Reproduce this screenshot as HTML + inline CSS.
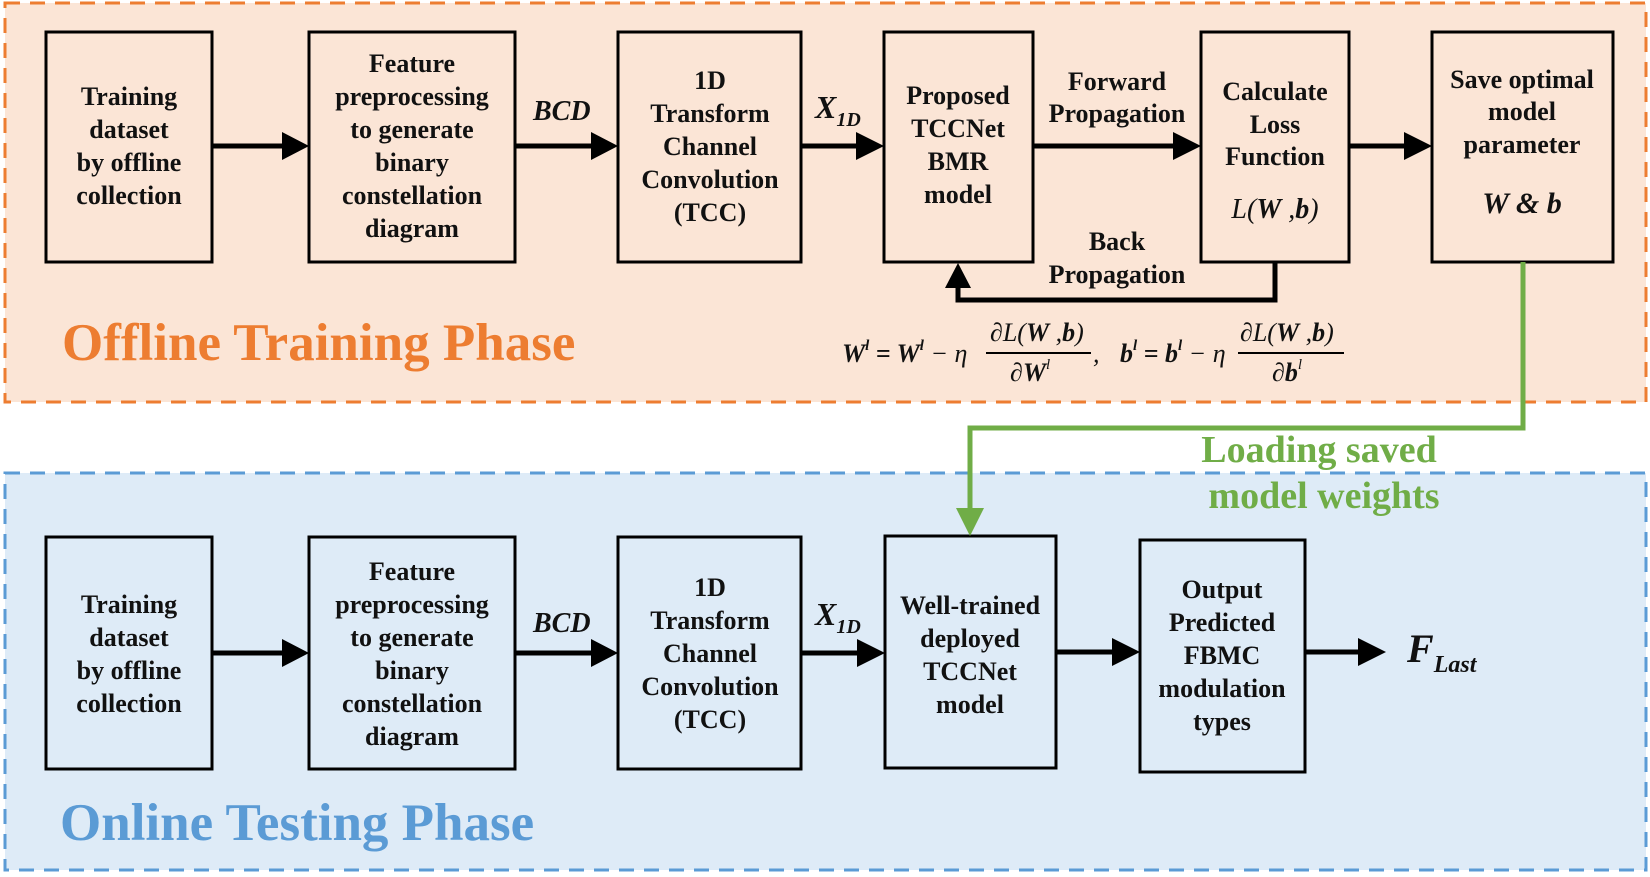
<!DOCTYPE html>
<html><head><meta charset="utf-8"><style>
html,body{margin:0;padding:0;background:#fff}
svg{display:block}
svg text{font-family:"Liberation Serif","Times New Roman","DejaVu Serif",serif;font-weight:bold;fill:#111}
.b{font-size:26px;text-anchor:middle}
.i{font-style:italic}
</style></head><body>
<svg width="1650" height="877" viewBox="0 0 1650 877" xmlns="http://www.w3.org/2000/svg" font-family="Liberation Serif, serif">
<!-- panels -->
<rect x="5" y="3" width="1641" height="399" fill="#fbe5d6" stroke="#ed7d31" stroke-width="3" stroke-dasharray="15,10"/>
<rect x="5" y="473" width="1641" height="397" fill="#deebf7" stroke="#5b9bd5" stroke-width="3" stroke-dasharray="15,10"/>

<g fill="none" stroke="#000" stroke-width="3">
<rect x="46" y="32" width="166" height="230"/>
<rect x="309" y="32" width="206" height="230"/>
<rect x="618" y="32" width="183" height="230"/>
<rect x="884" y="32" width="149" height="230"/>
<rect x="1201" y="32" width="148" height="230"/>
<rect x="1432" y="32" width="181" height="230"/>

<rect x="46" y="537" width="166" height="232"/>
<rect x="309" y="537" width="206" height="232"/>
<rect x="618" y="537" width="183" height="232"/>
<rect x="885" y="536" width="171" height="232"/>
<rect x="1140" y="540" width="165" height="232"/>
</g>

<!-- arrows -->
<g stroke="#000" stroke-width="5" fill="none">
<line x1="212" y1="146" x2="284" y2="146"/>
<line x1="515" y1="146" x2="593" y2="146"/>
<line x1="801" y1="146" x2="858" y2="146"/>
<line x1="1033" y1="146" x2="1175" y2="146"/>
<line x1="1349" y1="146" x2="1406" y2="146"/>
<polyline points="1275,262 1275,300 958,300 958,285"/>
<line x1="212" y1="653" x2="284" y2="653"/>
<line x1="515" y1="653" x2="593" y2="653"/>
<line x1="801" y1="653" x2="859" y2="653"/>
<line x1="1056" y1="652" x2="1114" y2="652"/>
<line x1="1305" y1="652" x2="1360" y2="652"/>
</g>
<g fill="#000">
<path d="M282,132 L309,146 L282,160 z"/>
<path d="M591,132 L618,146 L591,160 z"/>
<path d="M856,132 L884,146 L856,160 z"/>
<path d="M1173,132 L1201,146 L1173,160 z"/>
<path d="M1404,132 L1432,146 L1404,160 z"/>
<path d="M945,288 L958,263 L971,288 z"/>
<path d="M282,639 L309,653 L282,667 z"/>
<path d="M591,639 L618,653 L591,667 z"/>
<path d="M857,639 L885,653 L857,667 z"/>
<path d="M1112,638 L1140,652 L1112,666 z"/>
<path d="M1358,638 L1386,652 L1358,666 z"/>
</g>
<!-- green -->
<polyline points="1523,262 1523,428 970,428 970,512" fill="none" stroke="#70ad47" stroke-width="5"/>
<path d="M956,508 L984,508 L970,536 z" fill="#70ad47"/>

<!-- top texts -->
<text x="129" y="105" class="b">Training</text><text x="129" y="138" class="b">dataset</text><text x="129" y="171" class="b">by offline</text><text x="129" y="204" class="b">collection</text>
<text x="412" y="72" class="b">Feature</text><text x="412" y="105" class="b">preprocessing</text><text x="412" y="138" class="b">to generate</text><text x="412" y="171" class="b">binary</text><text x="412" y="204" class="b">constellation</text><text x="412" y="237" class="b">diagram</text>
<text x="710" y="89" class="b">1D</text><text x="710" y="122" class="b">Transform</text><text x="710" y="155" class="b">Channel</text><text x="710" y="188" class="b">Convolution</text><text x="710" y="221" class="b">(TCC)</text>
<text x="958" y="104" class="b">Proposed</text><text x="958" y="137" class="b">TCCNet</text><text x="958" y="170" class="b">BMR</text><text x="958" y="203" class="b">model</text>
<text x="1275" y="100" class="b">Calculate</text><text x="1275" y="133" class="b">Loss</text><text x="1275" y="165" class="b">Function</text>
<text x="1275" y="218" class="b" style="font-weight:normal;font-style:italic;font-size:28px">L(<tspan font-weight="bold">W</tspan> ,<tspan font-weight="bold">b</tspan>)</text>
<text x="1522" y="88" class="b">Save optimal</text><text x="1522" y="120" class="b">model</text><text x="1522" y="153" class="b">parameter</text>
<text x="1522" y="213" class="b i" style="font-size:30px">W &amp; b</text>
<text x="1117" y="90" class="b">Forward</text><text x="1117" y="122" class="b">Propagation</text>
<text x="1117" y="250" class="b">Back</text><text x="1117" y="283" class="b">Propagation</text>
<text x="533" y="120" class="i" style="font-size:28px">BCD</text>
<text x="815" y="118" class="i" style="font-size:32px">X<tspan font-size="20" dy="8">1D</tspan></text>

<!-- equation -->
<g style="font-size:26px">
<text x="842" y="362" class="i">W<tspan font-size="15" dy="-12">l</tspan><tspan dy="12"> = W</tspan><tspan font-size="15" dy="-12">l</tspan><tspan dy="12" font-weight="normal"> − η</tspan></text>
<text x="990" y="341" class="i" style="font-weight:normal">∂L(<tspan font-weight="bold">W</tspan> ,<tspan font-weight="bold">b</tspan>)</text>
<line x1="986" y1="353" x2="1091" y2="353" stroke="#000" stroke-width="2"/>
<text x="1010" y="381" class="i" style="font-weight:normal">∂<tspan font-weight="bold">W</tspan><tspan font-size="15" dy="-12">l</tspan></text>
<text x="1093" y="362" class="i" style="font-weight:normal">,</text>
<text x="1120" y="362" class="i">b<tspan font-size="15" dy="-12">l</tspan><tspan dy="12"> = b</tspan><tspan font-size="15" dy="-12">l</tspan><tspan dy="12" font-weight="normal"> − η</tspan></text>
<text x="1240" y="341" class="i" style="font-weight:normal">∂L(<tspan font-weight="bold">W</tspan> ,<tspan font-weight="bold">b</tspan>)</text>
<line x1="1238" y1="353" x2="1344" y2="353" stroke="#000" stroke-width="2"/>
<text x="1272" y="381" class="i" style="font-weight:normal">∂<tspan font-weight="bold">b</tspan><tspan font-size="15" dy="-12">l</tspan></text>
</g>

<text x="62" y="360" style="font-size:53px;fill:#ed7d31">Offline Training Phase</text>

<!-- green label -->
<text x="1319" y="462" class="b" style="font-size:38px;fill:#70ad47">Loading saved</text>
<text x="1324" y="508" class="b" style="font-size:38px;fill:#70ad47">model weights</text>

<!-- bottom texts -->
<text x="129" y="613" class="b">Training</text><text x="129" y="646" class="b">dataset</text><text x="129" y="679" class="b">by offline</text><text x="129" y="712" class="b">collection</text>
<text x="412" y="580" class="b">Feature</text><text x="412" y="613" class="b">preprocessing</text><text x="412" y="646" class="b">to generate</text><text x="412" y="679" class="b">binary</text><text x="412" y="712" class="b">constellation</text><text x="412" y="745" class="b">diagram</text>
<text x="710" y="596" class="b">1D</text><text x="710" y="629" class="b">Transform</text><text x="710" y="662" class="b">Channel</text><text x="710" y="695" class="b">Convolution</text><text x="710" y="728" class="b">(TCC)</text>
<text x="970" y="614" class="b">Well-trained</text><text x="970" y="647" class="b">deployed</text><text x="970" y="680" class="b">TCCNet</text><text x="970" y="713" class="b">model</text>
<text x="1222" y="598" class="b">Output</text><text x="1222" y="631" class="b">Predicted</text><text x="1222" y="664" class="b">FBMC</text><text x="1222" y="697" class="b">modulation</text><text x="1222" y="730" class="b">types</text>
<text x="533" y="632" class="i" style="font-size:28px">BCD</text>
<text x="815" y="625" class="i" style="font-size:32px">X<tspan font-size="20" dy="8">1D</tspan></text>
<text x="1407" y="662" class="i" style="font-size:40px">F<tspan font-size="24" dy="10">Last</tspan></text>

<text x="60" y="840" style="font-size:53px;fill:#5b9bd5">Online Testing Phase</text>
</svg>
</body></html>
